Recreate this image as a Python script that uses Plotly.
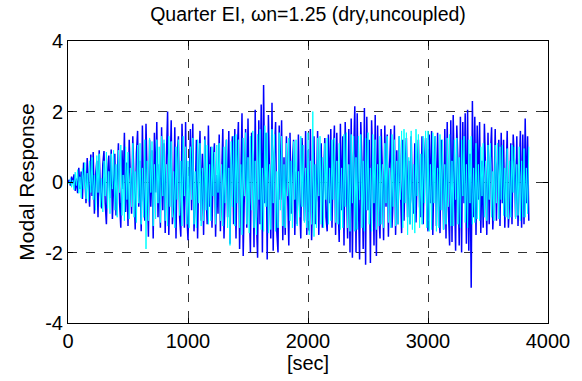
import plotly.graph_objects as go

# time axis: samples every 10 s from 0 to 3840 s
t_start = 0
t_step = 10

blue_response = [
    0, 0.06, -0.1, 0.15, -0.05, 0.22, -0.25, 0.1, -0.32, 0.4, -0.2, 0.3, -0.48, 0.55, 0.2, -0.6, 0.68, -0.3, -0.7, 0.78,
    -0.4, 0.85, -0.9, 0.2, 0.6, -1.0, 0.9, -0.3, -0.75, 0.5, 0.88, -0.6, -1.2, 0.3, 0.75, -0.45, 0.92, -1.05, 0.15, 0.8,
    -0.95, 0.4, 1.1, -0.6, -1.3, 0.9, -0.2, 1.4, -0.85, 0.55, -1.25, 1.2, 0.3, -0.9, 1.3, -0.5, -1.35, 0.8, 1.45, -0.7,
    0.6, -1.4, 1.6, -0.5, -1.1, 1.65, 0.4, -1.55, 1.2, -0.7, 0.9, -1.6, 1.4, -0.3, 1.7, -1.0, 0.5, -1.3, 1.55, -0.8,
    1.1, -1.45, 0.7, 2.0, -1.5, 0.3, 1.75, -1.2, -0.6, 1.55, -1.6, 0.8, 1.3, -1.0, -1.55, 1.65, 0.2, -1.3, 1.7, -0.9,
    -1.65, 0.6, 1.5, -0.8, 1.65, -1.4, -0.5, 1.2, -1.6, 0.4, 1.45, -1.1, 0.8, -1.5, 1.3, -0.3, -1.2, 1.6, -0.7, 1.0,
    -1.3, 0.5, 1.1, -1.55, 0.2, -0.9, 1.35, -1.4, 0.7, 1.5, -1.6, -0.4, 1.2, -1.0, 1.45, -1.75, 0.6, 1.3, -1.2, 1.5,
    -1.6, 0.8, 1.7, -1.9, 0.4, 1.95, -2.1, -0.7, 1.5, -1.3, 1.8, -0.5, -2.0, 1.4, 0.6, -1.85, 2.05, -1.0, -2.15, 1.75,
    -1.2, 2.2, -2.0, 2.75, -0.6, 1.4, -2.2, 1.9, 0.3, -1.6, 2.25, -1.95, 0.8, 1.7, -1.4, -2.0, 1.6, -0.5, 1.75, -1.65,
    0.7, -1.5, 1.3, -0.4, -1.8, 1.4, -0.9, 0.5, 1.2, -1.5, 0.3, -1.2, 1.35, -0.6, -1.6, 1.25, 0.4, -1.1, 1.45, -1.5,
    0.9, -1.4, 1.5, -1.65, 0.4, 1.3, -1.2, -0.5, 1.45, -1.5, 0.7, 1.1, -1.3, 0.2, 1.25, -1.0, -1.4, 1.35, -0.6, 1.5,
    -1.3, 0.6, 1.6, -1.5, 1.4, -0.5, -1.7, 1.65, -0.8, 1.3, -1.8, 1.7, 0.4, -1.6, 1.5, -2.0, 1.8, -2.15, 0.7, 2.15,
    -2.0, 1.95, -0.6, -2.2, 1.7, 0.5, -1.9, 2.1, -2.35, 1.85, -0.8, 1.2, -2.3, 1.75, 0.4, -1.8, 1.9, -2.1, 1.6, -0.9,
    -1.6, 1.5, 0.3, -1.65, 1.6, -0.7, 1.35, -1.55, 0.5, 1.5, -1.3, -0.4, 1.6, -1.5, 0.9, -1.2, 1.3, -0.6, -1.45, 1.2,
    -1.1, 0.4, 1.25, -1.0, 0.6, -1.2, 1.3, -0.5, -0.9, 1.1, -1.15, 0.3, 1.2, -0.7, -1.0, 1.3, -1.2, 0.5, 1.25, -0.8,
    -1.4, 1.35, -0.6, 1.45, -1.5, 0.4, 1.3, -1.25, 1.4, -0.7, -1.45, 1.2, 0.5, -1.35, 1.5, -1.6, 1.7, -0.8, -1.8, 1.75,
    -1.7, 1.9, -0.7, -1.95, 1.6, 0.5, -1.8, 1.85, -2.0, 1.7, -0.6, 1.95, -1.75, 2.05, -1.95, 0.8, -3.0, 2.3, -1.0, 1.85,
    -1.5, 1.6, -0.5, 1.7, -1.45, 0.6, -1.3, 1.65, 0.3, -1.5, 1.4, -1.2, 0.7, 1.55, -1.35, -0.4, 1.5, -1.1, 0.5, 1.2,
    -1.25, 1.4, -0.6, 1.2, -1.3, 0.4, 1.45, -1.3, -0.5, 1.1, -1.2, 1.35, 0.6, -1.0, 1.3, -1.25, 0.3, 1.45, -1.3, 1.35,
    -1.2, 1.8, -0.6, 1.3, -1.1,
]

cyan_response = [
    0, -0.06, 0.1, -0.15, 0.05, -0.22, 0.28, -0.1, 0.35, -0.32, 0.15, -0.45, 0.38, -0.2, 0.55, -0.48, 0.25, -0.55, 0.6, -0.3,
    0.7, -0.5, 0.2, -0.8, 0.75, -0.3, 0.8, -0.7, 0.1, -0.85, 0.6, -0.4, 0.85, -0.75, 0.3, -0.9, 0.8, -0.2, 0.9, -0.8,
    0.5, -1.0, 0.9, -0.3, 1.05, -0.95, 0.2, -1.1, 1.0, -0.5, 0.85, -1.05, 0.4, -0.7, 1.1, -1.0, 0.3, -1.15, 1.05, -0.6,
    1.1, -1.2, 0.4, -1.0, 1.2, -1.9, 0.6, -1.1, 1.25, -0.3, 1.15, -1.25, 0.5, -1.05, 1.2, -0.6, 1.0, -1.15, 1.3, -0.4,
    1.2, -1.1, 0.5, -1.25, 1.3, -0.7, 1.15, -1.0, 0.3, -1.3, 1.0, -0.5, 1.2, -0.95, 0.6, -1.25, 1.3, -0.4, 1.0, -1.2,
    0.6, -1.3, 1.0, -0.5, 1.25, -1.2, 0.3, -1.3, 1.2, -0.6, 1.1, -1.25, 0.4, -1.1, 1.2, -0.8, 1.05, -1.2, 0.5, -1.1,
    1.0, -0.4, 0.85, -1.2, 1.05, -0.3, 1.1, -1.1, 0.5, -1.25, 1.0, -0.6, 1.2, -1.3, 0.4, -1.8, 1.15, -0.7, 1.3, -1.25,
    1.35, -0.6, 1.2, -1.3, 0.5, -1.5, 1.25, -0.4, 1.4, -1.2, 0.7, -1.45, 1.3, -0.8, 1.45, -1.3, 0.6, -1.5, 1.35, -0.5,
    1.5, -1.35, 0.4, -1.4, 1.6, -0.7, 1.4, -1.45, 0.5, -1.35, 1.5, -0.6, 1.35, -1.4, 0.3, -1.3, 1.4, -0.8, 1.3, -1.25,
    0.5, -1.3, 1.1, -0.4, 1.25, -1.1, 0.6, -1.3, 1.15, -0.5, 1.2, -1.25, 0.3, -1.0, 1.3, -0.7, 1.05, -1.15, 0.4, -1.3,
    1.4, -1.5, 0.6, -1.2, 2.0, -1.55, 0.5, -1.3, 1.25, -0.4, 1.3, -1.2, 0.7, -1.3, 1.1, -0.5, 1.25, -1.2, 0.4, -1.1,
    1.2, -0.5, 1.25, -1.15, 0.6, -1.2, 1.1, -1.35, 0.4, -1.3, 1.35, -0.7, 1.4, -1.3, 0.5, -1.4, 1.35, -0.6, 1.3, -1.4,
    0.7, -1.35, 1.3, -0.5, 1.35, -1.3, 0.6, -1.4, 1.25, -0.8, 1.4, -1.2, 0.4, -1.4, 1.35, -0.6, 1.2, -1.35, 0.5, -1.25,
    1.3, -1.2, 0.5, -1.3, 1.1, -0.6, 1.3, -1.15, 0.4, -1.3, 1.35, -0.7, 1.2, -1.25, 0.6, -1.2, 1.3, -0.5, 1.45, -1.3,
    1.5, -0.6, 1.4, -1.5, 0.7, -1.2, 1.45, -1.35, 0.5, -1.45, 1.5, -0.4, 1.35, -1.3, 0.8, -1.2, 1.3, -0.6, 1.45, -1.3,
    1.45, -1.4, 0.5, -1.35, 1.4, -0.6, 1.3, -1.4, 0.4, -1.3, 1.35, -0.8, 1.2, -1.35, 0.5, -1.2, 1.25, -0.7, 1.35, -1.25,
    0.6, -1.25, 1.2, -0.5, 1.25, -1.2, 0.7, -1.3, 1.2, -0.4, 1.3, -1.15, 0.5, -1.3, 1.2, -0.6, 1.3, -1.2, 0.4, -1.15,
    1.1, -1.05, 0.5, -1.1, 1.0, -0.4, 1.1, -1.0, 0.6, -1.1, 1.05, -0.5, 1.1, -1.0, 0.3, -1.1, 1.05, -0.6, 1.1, -1.05,
    1.0, -0.5, 1.05, -0.95, 0.4, -1.0, 0.95, -1.05, 0.6, -1.0, 1.05, -0.3, 1.0, -1.05, 0.5, -0.95, 1.0, -1.1, 0.6, -1.0,
    0.95, -1.0, 0.4, -0.9, 1.0,
]

x_ticks = [0, 1000, 2000, 3000, 4000]
y_ticks = [-4, -2, 0, 2, 4]

title_text = "Quarter EI, \u03c9n=1.25 (dry,uncoupled)"
x_label = "[sec]"
y_label = "Modal Response"

t_blue = [t_start + i * t_step for i in range(len(blue_response))]
t_cyan = [t_start + i * t_step for i in range(len(cyan_response))]

FONT = "Liberation Sans, Arial, sans-serif"

fig = go.Figure()
fig.add_trace(go.Scatter(x=t_blue, y=blue_response, mode="lines",
                         line=dict(color="#0000ff", width=1.5), showlegend=False))
fig.add_trace(go.Scatter(x=t_cyan, y=cyan_response, mode="lines",
                         line=dict(color="#00ffff", width=1), showlegend=False))

axis_common = dict(
    showline=True, linecolor="black", linewidth=1, mirror="allticks",
    ticks="inside", ticklen=5, tickcolor="black", tickwidth=1,
    showgrid=True, gridcolor="#333333", gridwidth=1, griddash="dash",
    zeroline=False, tickfont=dict(family=FONT, size=20, color="black"),
)

fig.update_layout(
    width=582, height=381,
    margin=dict(l=68, r=30, t=41, b=57),
    paper_bgcolor="white", plot_bgcolor="white",
    font=dict(family=FONT, size=20, color="black"),
    title=dict(text=title_text, x=0.5, xanchor="center", xref="paper",
               y=1 - 14 / 381, yanchor="middle",
               font=dict(family=FONT, size=19.5, color="black")),
    xaxis=dict(range=[0, 4000], tickvals=x_ticks, ticktext=[str(v) for v in x_ticks],
               title=dict(text=x_label, standoff=3, font=dict(family=FONT, size=20)),
               **axis_common),
    yaxis=dict(range=[-4, 4], tickvals=y_ticks, ticktext=[str(v) for v in y_ticks],
               title=dict(text=y_label, standoff=4, font=dict(family=FONT, size=21)),
               **axis_common),
)

fig.write_html("out.html")
